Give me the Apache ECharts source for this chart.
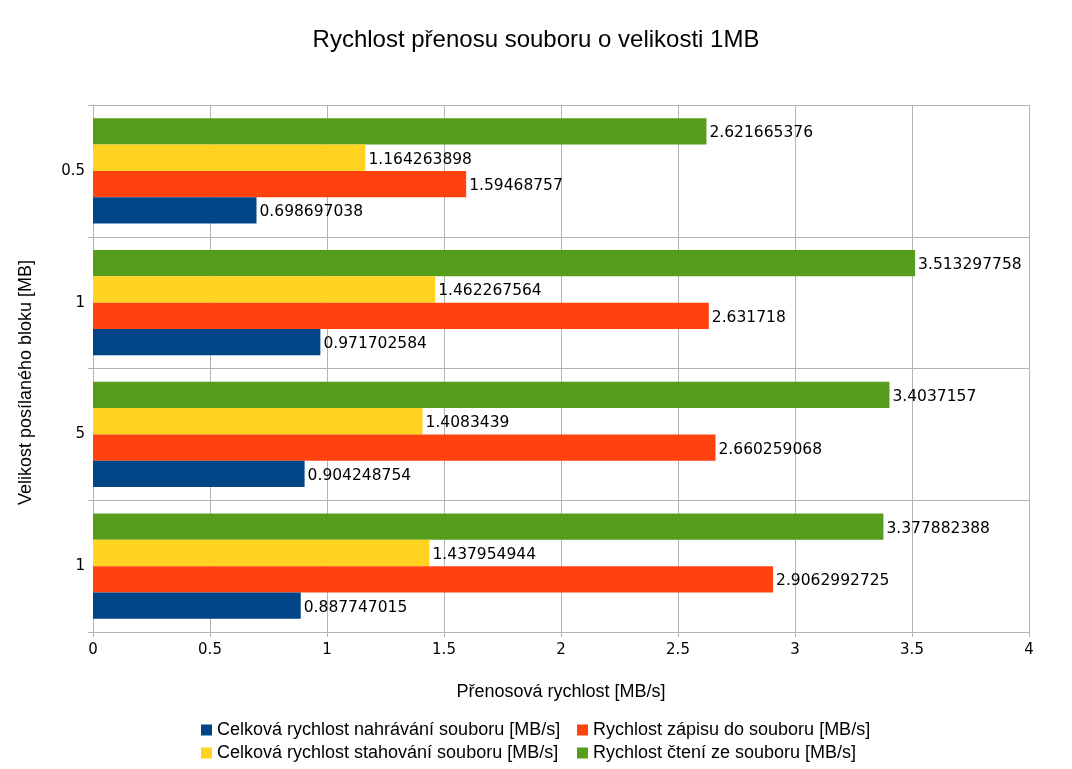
<!DOCTYPE html>
<html>
<head>
<meta charset="utf-8">
<script src="https://cdn.jsdelivr.net/npm/echarts@6/dist/echarts.min.js"></script>
<style>html,body{margin:0;padding:0;background:#fff}#c{width:1072px;height:769px}</style>
</head>
<body>
<div id="c"></div>
<script>
const categories = ['1', '5', '1', '0.5'];
const seriesNames = [
  'Celková rychlost nahrávání souboru [MB/s]',
  'Rychlost zápisu do souboru [MB/s]',
  'Celková rychlost stahování souboru [MB/s]',
  'Rychlost čtení ze souboru [MB/s]'
];
const uploadTotal = [0.887747015, 0.904248754, 0.971702584, 0.698697038];
const writeSpeed = [2.9062992725, 2.660259068, 2.631718, 1.59468757];
const downloadTotal = [1.437954944, 1.4083439, 1.462267564, 1.164263898];
const readSpeed = [3.377882388, 3.4037157, 3.513297758, 2.621665376];
const colors = ['#004586', '#ff420e', '#ffd320', '#579d1c'];
const values = [uploadTotal, writeSpeed, downloadTotal, readSpeed];

const chart = echarts.init(document.getElementById('c'));
const numFont = 'DejaVu Sans';
const txtFont = 'Liberation Sans';
// ECharts places the first series at the top of a horizontal band; reverse so blue sits at the bottom
const order = [3, 2, 1, 0];
chart.setOption({
  animation: false,
  title: {
    text: 'Rychlost přenosu souboru o velikosti 1MB',
    left: 'center', top: 23,
    textStyle: { fontFamily: txtFont, fontSize: 24, fontWeight: 'normal', color: '#000' }
  },
  legend: [
    {
      data: [seriesNames[0], seriesNames[2]],
      orient: 'vertical', left: 196, top: 716, itemGap: 5,
      itemWidth: 11, itemHeight: 11, icon: 'rect',
      textStyle: { fontFamily: txtFont, fontSize: 18, color: '#000' }
    },
    {
      data: [seriesNames[1], seriesNames[3]],
      orient: 'vertical', left: 572, top: 716, itemGap: 5,
      itemWidth: 11, itemHeight: 11, icon: 'rect',
      textStyle: { fontFamily: txtFont, fontSize: 18, color: '#000' }
    }
  ],
  grid: { left: 93, right: 43, top: 105, bottom: 137, containLabel: false },
  xAxis: {
    type: 'value', min: 0, max: 4, interval: 0.5,
    name: 'Přenosová rychlost [MB/s]', nameLocation: 'middle', nameGap: 51,
    nameTextStyle: { fontFamily: txtFont, fontSize: 18, color: '#000' },
    axisLine: { show: true, lineStyle: { color: '#b3b3b3' } },
    axisTick: { show: true, length: 5, lineStyle: { color: '#b3b3b3' } },
    axisLabel: { fontFamily: numFont, fontSize: 15, color: '#000', margin: 11 },
    splitLine: { show: true, lineStyle: { color: '#b3b3b3' } }
  },
  yAxis: {
    type: 'category', data: categories,
    name: 'Velikost posílaného bloku [MB]', nameLocation: 'middle', nameGap: 58, nameRotate: 90,
    nameTextStyle: { fontFamily: txtFont, fontSize: 18, color: '#000', padding: [0, 28, 0, 0] },
    axisLine: { show: true, lineStyle: { color: '#b3b3b3' } },
    axisTick: { show: true, length: 5, lineStyle: { color: '#b3b3b3' } },
    axisLabel: { fontFamily: numFont, fontSize: 15, color: '#000', margin: 8 },
    splitLine: { show: true, lineStyle: { color: '#b3b3b3' } }
  },
  series: order.map((i) => ({
    name: seriesNames[i],
    type: 'bar',
    data: values[i],
    itemStyle: { color: colors[i] },
    barGap: '0%',
    barCategoryGap: '20%',
    label: {
      show: true, position: 'right', distance: 3, offset: [0, 2],
      fontFamily: numFont, fontSize: 15.5, color: '#000'
    }
  }))
});
</script>
</body>
</html>
